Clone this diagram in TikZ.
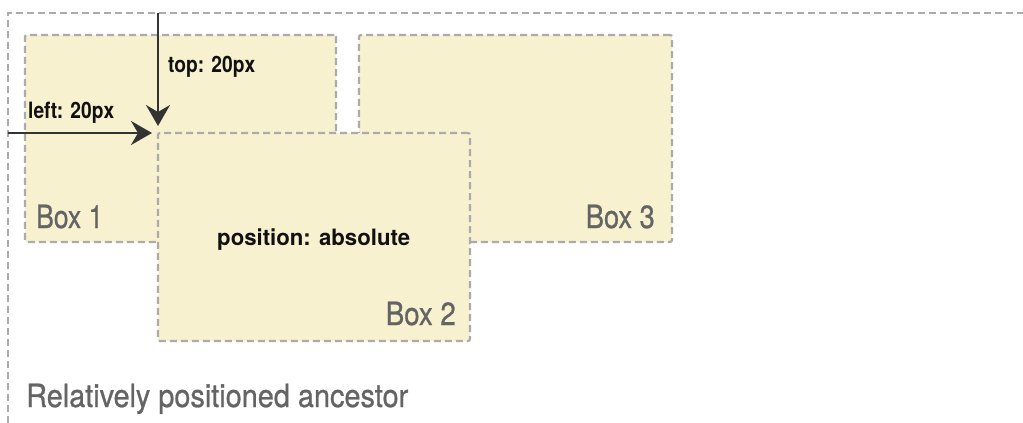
\documentclass[tikz,border=0pt]{standalone}
\usepackage{fontspec}
\setmainfont{TeX Gyre Heros}
\newfontfamily\graylabelfont[FakeBold=0.8]{TeX Gyre Heros}
\usetikzlibrary{arrows.meta}
\definecolor{boxfill}{HTML}{F8F1D0}
\definecolor{dashgray}{HTML}{ABABAB}
\definecolor{labelgray}{HTML}{646464}
\definecolor{arrowdark}{HTML}{333333}
\definecolor{textdark}{HTML}{111111}
\begin{document}
\begin{tikzpicture}[x=1pt,y=-1pt,
  dashline/.style={draw=dashgray, line width=2.2pt, dash pattern=on 7pt off 4pt},
  boxstyle/.style={dashline, fill=boxfill, rounded corners=2pt, anchor=north west,
    inner sep=0pt, outer sep=0pt},
  graylabel/.style={text=labelgray, font=\fontsize{32}{32}\graylabelfont, inner sep=0pt},
  blacklabel/.style={text=textdark, font=\fontsize{22.5}{22.5}\selectfont\bfseries, inner sep=0pt},
  arrowline/.style={draw=arrowdark, line width=2.4pt,
    -{Stealth[length=21pt,width=24pt,inset=7pt]}}]
\useasboundingbox (0,0) rectangle (1023,423);
% relatively positioned ancestor (container)
\coordinate (ancbl) at (8,423);
\coordinate (anctl) at (8,13);
\coordinate (anctr) at (1023,13);
\draw[dashline] (ancbl) -- (anctl) -- (anctr);
% boxes
\node[boxstyle, minimum width=311pt, minimum height=207pt] (box1) at (25,35) {};
\node[boxstyle, minimum width=313pt, minimum height=207pt] (box3) at (359,35) {};
\node[boxstyle, minimum width=312pt, minimum height=208pt] (box2) at (158,133) {};
% arrows
\coordinate (topstart) at (158,13);
\coordinate (leftstart) at (8,133);
\draw[arrowline, shorten >=7pt] (topstart) -- (box2.north west);
\draw[arrowline, shorten >=6pt] (leftstart) -- (box2.north west);
% labels
\node[graylabel, anchor=base west] (lbox1) at (36,228) {\resizebox{67pt}{\height}{Box 1}};
\node[graylabel, anchor=base east] (lbox3) at (655,228) {\resizebox{69pt}{\height}{Box 3}};
\node[graylabel, anchor=base east] (lbox2) at (456,325) {\resizebox{70pt}{\height}{Box 2}};
\node[blacklabel, anchor=base west] (lpos) at (217,245) {\resizebox{193pt}{\height}{position: absolute}};
\node[blacklabel, anchor=base west] (ltop) at (168,72) {\resizebox{87pt}{\height}{top: 20px}};
\node[blacklabel, anchor=base west] (lleft) at (28,118) {\resizebox{86pt}{\height}{left: 20px}};
\node[graylabel, anchor=base west] (lanc) at (26,407) {\resizebox{382pt}{\height}{Relatively positioned ancestor}};
\end{tikzpicture}
\end{document}
